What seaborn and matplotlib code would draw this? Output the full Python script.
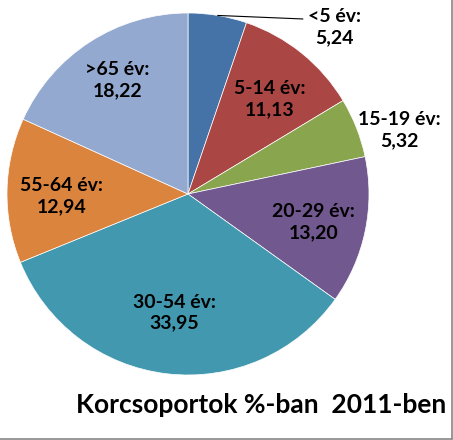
import numpy as np
import matplotlib
matplotlib.use("Agg")
import matplotlib.pyplot as plt
import seaborn as sns
from matplotlib.lines import Line2D

# data
groups = ["<5 év:", "5-14 év:", "15-19 év:", "20-29 év:", "30-54 év:", "55-64 év:", ">65 év:"]
shares = [5.24, 11.13, 5.32, 13.20, 33.95, 12.94, 18.22]
share_labels = ["5,24", "11,13", "5,32", "13,20", "33,95", "12,94", "18,22"]
slice_colors = ["#4572A7", "#AA4643", "#89A54E", "#71588F", "#4198AF", "#DB843D", "#93A9CF"]
title = "Korcsoportok %-ban  2011-ben"

sns.set_theme(style="white")
plt.rcParams['font.family'] = ['Lato', 'DejaVu Sans']
plt.rcParams['text.color'] = 'black'

W, H = 4.53, 4.40
fig = plt.figure(figsize=(W, H), dpi=100)
# pie centre (188,194) px, radius 181 px
cx, cy, r = 188, 194, 181
ax = fig.add_axes([(cx - r) / 453, (440 - cy - r) / 440, 2 * r / 453, 2 * r / 440])

pal = sns.color_palette(slice_colors)
wedges, _ = ax.pie(shares, colors=pal, startangle=90, counterclock=False,
                   radius=1, wedgeprops=dict(edgecolor="white", linewidth=0.5))
ax.set_xlim(-1, 1)
ax.set_ylim(-1, 1)
ax.set_aspect("auto")
ax.axis("off")

fs = 14
# label placement: radial fraction and angle shift per slice
label_r = [None, 0.69, 1.22, 0.71, 0.66, 0.70, 0.74]
label_shift = [0, -2, -4.7, -1, 0, 2, -1]
for i, w in enumerate(wedges):
    mid = np.deg2rad((w.theta1 + w.theta2) / 2)
    txt = f"{groups[i]}\n{share_labels[i]}"
    if label_r[i] is None:
        ex, ey = np.cos(mid), np.sin(mid)
        ax.plot([ex, 0.635], [ey, 0.967], color="black", lw=0.8, clip_on=False)
        ax.text(0.81, 0.92, txt, ha="center", va="center", fontsize=fs,
                fontweight="bold", linespacing=1.3, clip_on=False)
    else:
        rr = label_r[i]
        a = mid + np.deg2rad(label_shift[i])
        ax.text(rr * np.cos(a), rr * np.sin(a), txt, ha="center", va="center",
                fontsize=fs, fontweight="bold", linespacing=1.3, clip_on=False)

fig.text(261 / 453, 1 - 405 / 440, title, ha="center", va="center",
         fontsize=19, fontweight="bold")

# frame edges (right and bottom visible)
fig.add_artist(Line2D([451.5 / 453, 451.5 / 453], [1 - 439 / 440, 1], color="#868686", lw=1.2))
fig.add_artist(Line2D([0, 451.5 / 453], [1 - 439 / 440, 1 - 439 / 440], color="#868686", lw=1.2))

fig.savefig("out.png", dpi=100)
